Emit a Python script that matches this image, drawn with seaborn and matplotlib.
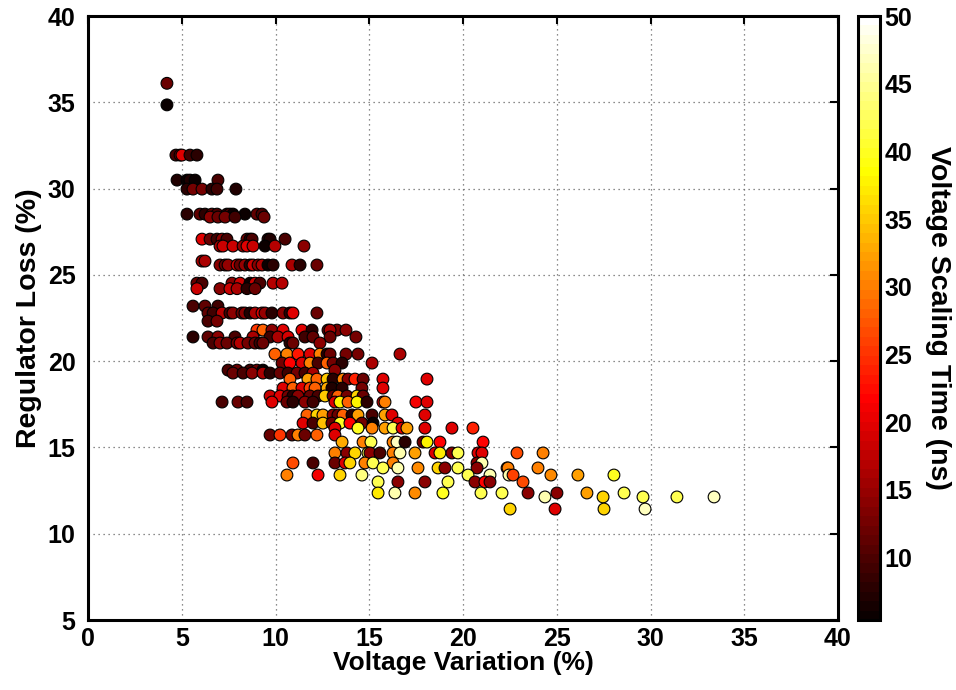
import numpy as np
import pandas as pd
import matplotlib
matplotlib.use("Agg")
import matplotlib.pyplot as plt
import matplotlib as mpl
import seaborn as sns

# ---- data: one list per row of regulator-loss level ----
rows = [
    (36.1, [4.21], [12]),
    (34.85, [4.21], [6]),
    (31.94, [4.69, 4.91, 5.01, 5.44, 5.81], [10, 12, 20, 9, 8]),
    (30.49, [4.75, 5.28, 5.44, 5.71, 6.93], [7, 6, 7, 6, 10]),
    (29.97, [5.28, 5.6, 6.08, 6.61, 6.88, 7.89], [8, 13, 13, 8, 9, 7]),
    (28.52, [5.28, 5.97, 6.24, 6.61, 6.88, 7.41, 7.57, 7.73, 8.37, 9.01, 9.28],
     [8, 11, 8, 12, 10, 8, 12, 6, 6, 11, 10]),
    (28.35, [6.51, 6.93, 7.31, 7.84, 9.39], [14, 12, 13, 9, 12]),
    (27.07, [6.08, 6.51, 6.88, 7.15, 7.41, 8.48, 8.64, 8.75, 9.6, 9.71, 10.51],
     [20, 12, 9, 14, 10, 13, 8, 10, 8, 7, 10]),
    (26.67, [7.04, 7.2, 7.73, 8.27, 8.48, 8.8, 9.44, 9.97, 11.52],
     [16, 18, 18, 15, 20, 18, 6, 17, 14]),
    (25.8, [6.08, 6.24], [16, 16]),
    (25.57, [7.04, 7.31, 7.47, 7.95, 8.11, 8.37, 8.64, 8.8, 9.07, 9.28, 9.6, 9.87, 10.88, 11.31, 12.21],
     [14, 12, 15, 18, 12, 15, 8, 18, 14, 16, 6, 8, 16, 8, 12]),
    (24.52, [5.81, 6.08, 7.68, 8.11, 8.64, 8.91, 9.17, 9.87, 10.35],
     [12, 10, 14, 18, 6, 18, 10, 17, 17]),
    (24.2, [5.81, 7.04, 7.57, 7.95, 8.48, 8.91], [18, 14, 18, 16, 8, 12]),
    (23.19, [5.6, 6.24, 6.93], [10, 11, 9]),
    (22.79, [6.4, 6.67, 7.15, 7.57, 7.73, 8.21, 8.37, 8.64, 8.91, 9.28, 9.44, 9.81, 10.4, 10.77, 10.93, 12.21],
     [11, 9, 17, 10, 14, 12, 14, 7, 16, 20, 15, 8, 14, 8, 20, 12]),
    (22.32, [6.4, 6.88], [10, 13]),
    (21.8, [9.01, 9.33, 9.81, 10.4, 11.41, 11.95, 12.8, 13.28, 13.76, 12.91],
     [25, 28, 14, 20, 20, 8, 12, 13, 14, 16]),
    (21.4, [5.6, 6.4, 6.93, 7.84, 8.8, 9.71, 10.13, 10.67, 11.57, 12.0, 12.91, 14.29],
     [8, 11, 14, 10, 16, 9, 16, 19, 9, 11, 12, 13]),
    (21.05, [6.67, 7.04, 7.41, 7.95, 8.11, 8.53, 8.91, 9.17, 9.33, 10.77, 10.93, 12.37],
     [10, 14, 12, 13, 17, 13, 12, 9, 12, 8, 12, 14]),
    (20.41, [9.97, 10.61, 11.2, 11.84, 12.37, 12.75, 12.91, 13.76, 14.4, 16.64],
     [28, 30, 23, 20, 30, 8, 12, 13, 13, 16]),
    (19.89, [10.35, 10.77, 11.41, 11.84, 12.27, 12.75, 13.07, 13.55, 15.15],
     [13, 22, 20, 30, 10, 28, 13, 8, 16]),
    (19.48, [7.47, 7.95, 8.64, 9.01, 9.33, 13.17], [10, 12, 9, 12, 6, 14]),
    (19.31, [7.73, 8.27, 8.75, 9.33, 9.71, 10.24, 10.67, 11.15, 11.57, 12.0],
     [12, 10, 14, 16, 8, 12, 9, 13, 10, 16]),
    (18.96, [10.77, 11.73, 12.21, 12.75, 13.07, 13.6, 13.87, 14.24, 14.67, 15.73, 18.08],
     [28, 32, 28, 35, 8, 30, 14, 24, 12, 20, 20]),
    (18.44, [10.4, 10.93, 11.41, 11.84, 12.11, 12.75, 13.01, 13.55, 14.61, 15.73],
     [20, 28, 20, 26, 28, 33, 7, 8, 13, 20]),
    (17.98, [9.71, 10.24, 10.67, 10.93, 11.2, 11.84, 12.27, 12.64, 13.07, 13.33, 13.81, 14.35, 14.67],
     [18, 20, 13, 8, 14, 12, 10, 35, 12, 28, 13, 36, 12]),
    (17.63, [7.15, 8.0, 8.48, 9.81, 10.61, 10.93, 11.57, 12.0, 13.17, 13.44, 13.87, 14.35, 14.88, 15.73, 15.84, 17.49, 18.08],
     [10, 12, 10, 20, 12, 8, 14, 9, 20, 38, 28, 38, 8, 20, 30, 21, 20]),
    (16.88, [11.68, 12.21, 12.53, 13.07, 13.33, 13.6, 14.08, 14.4, 15.15, 15.84, 16.21, 17.97],
     [28, 36, 32, 14, 12, 28, 8, 32, 10, 32, 20, 20]),
    (16.41, [11.47, 12.0, 12.53, 13.01, 13.44, 13.97, 14.61, 15.2, 16.53],
     [20, 10, 34, 12, 40, 22, 13, 6, 20]),
    (16.12, [13.17, 14.4, 15.15, 15.84, 16.27, 16.75, 17.01, 17.97, 19.41, 20.53],
     [20, 40, 30, 32, 42, 20, 32, 20, 20, 24]),
    (15.72, [9.71, 10.24, 10.88, 11.2, 11.57, 12.21, 13.17], [12, 25, 12, 30, 12, 28, 20]),
    (15.31, [13.55, 14.67, 15.09, 16.27, 16.48, 16.91, 17.87, 18.08, 18.77, 21.07],
     [33, 30, 42, 30, 47, 8, 12, 38, 22, 22]),
    (14.68, [13.17, 13.81, 14.24, 14.93, 15.04, 15.57, 16.27, 16.64, 17.44, 18.51, 18.77, 19.41, 19.73,
             20.8, 21.01, 22.88, 24.27],
     [30, 14, 36, 42, 14, 10, 30, 46, 32, 20, 37, 14, 42, 20, 20, 27, 30]),
    (14.1, [10.93, 12.0, 13.17, 13.71, 13.97, 14.77, 15.2, 16.27, 20.75, 21.01],
     [27, 10, 12, 20, 36, 30, 42, 30, 14, 46]),
    (13.81, [15.73, 16.53, 17.6, 18.67, 19.04, 19.73, 20.75, 22.35, 22.4, 24.0],
     [42, 46, 31, 36, 14, 42, 14, 27, 30, 30]),
    (13.4, [10.61, 12.27, 13.44, 14.61, 20.27, 21.44, 22.45, 22.67, 24.69, 26.13, 28.05],
     [30, 21, 36, 44, 42, 46, 46, 26, 31, 32, 40]),
    (13.0, [15.47, 16.53, 17.97, 19.2, 20.64, 21.17, 21.44, 23.2], [42, 14, 14, 42, 14, 22, 14, 27]),
    (12.36, [15.47, 16.37, 17.44, 18.93, 20.96, 22.08, 23.47, 25.01, 26.61, 28.59],
     [37, 46, 31, 40, 42, 42, 14, 14, 32, 42]),
    (12.13, [24.37, 27.47, 29.6, 31.41, 33.39], [46, 36, 42, 42, 47]),
    (11.43, [22.51, 24.91, 27.52, 29.71], [36, 20, 36, 47]),
]

voltage_variation = [x for _, xs, _ in rows for x in xs]
regulator_loss = [y for y, xs, _ in rows for _ in xs]
scaling_time = [c for _, _, cs in rows for c in cs]

df = pd.DataFrame({"vv": voltage_variation, "rl": regulator_loss, "t": scaling_time})

sns.set_theme(style="white")
plt.rcParams["font.family"] = ["Liberation Sans", "DejaVu Sans"]
plt.rcParams["font.weight"] = "bold"
for k in ["text.color", "axes.labelcolor", "xtick.color", "ytick.color", "axes.edgecolor"]:
    plt.rcParams[k] = "black"

cmin, cmax = 5.4, 50
cmap = plt.get_cmap("hot", 64)
norm = mpl.colors.Normalize(cmin, cmax)

fig = plt.figure(figsize=(9.56, 6.9), dpi=100)
ax = fig.add_axes([88/956, 70/690, 750/956, 604/690])
cax = fig.add_axes([858/956, 70/690, 22/956, 604/690])

sns.scatterplot(data=df, x="vv", y="rl", hue="t", palette=cmap, hue_norm=norm,
                legend=False, s=72, edgecolor="black", linewidth=0.8, ax=ax, zorder=3)

ax.set_xlim(0, 40)
ax.set_ylim(5, 40)
ax.set_xticks(range(0, 41, 5))
ax.set_yticks(range(5, 41, 5))
ax.grid(True, linestyle=(0, (1, 3)), color="0.4", linewidth=0.9)
ax.tick_params(direction="in", length=6, width=1.5, top=True, right=True,
               labelsize=18, colors="black")
ax.tick_params(axis="y", pad=9)
ax.tick_params(axis="x", pad=5)
for lab in ax.get_xticklabels() + ax.get_yticklabels():
    lab.set_fontweight("bold")
for sp in ax.spines.values():
    sp.set_linewidth(2.2)
    sp.set_color("black")
ax.set_xlabel("Voltage Variation (%)", fontsize=19, fontweight="bold", labelpad=0)
ax.set_ylabel("Regulator Loss (%)", fontsize=20.5, fontweight="bold", labelpad=4)

sm = mpl.cm.ScalarMappable(norm=norm, cmap=cmap)
cb = fig.colorbar(sm, cax=cax)
cb.set_ticks(range(10, 51, 5))
cb.ax.tick_params(direction="in", length=5, width=1.5, labelsize=18, pad=3, colors="black")
for lab in cb.ax.get_yticklabels():
    lab.set_fontweight("bold")
cb.outline.set_linewidth(2.2)
cb.outline.set_edgecolor("black")
cb.set_label("Voltage Scaling Time (ns)", rotation=270, fontsize=20.5,
             fontweight="bold", labelpad=28)

fig.savefig("out.png", dpi=100)
